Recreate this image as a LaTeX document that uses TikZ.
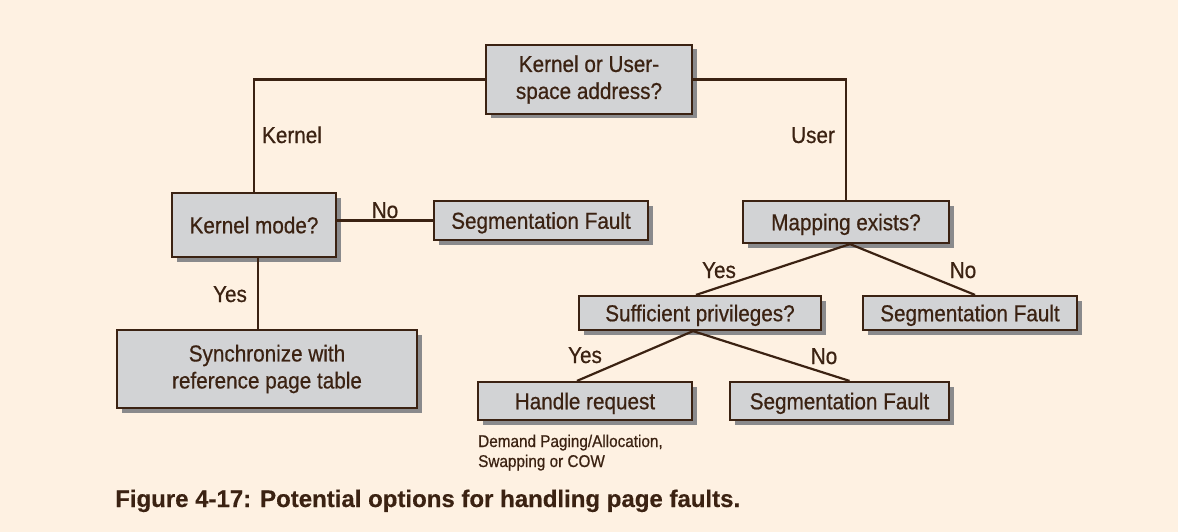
\documentclass[tikz,border=0pt]{standalone}
\usepackage{fontspec}
\setmainfont[FakeStretch=0.9,FakeBold=0.6]{Liberation Sans}
\newfontfamily\capfont[FakeBold=0.4]{Liberation Sans}
\usetikzlibrary{shadows,calc}
\definecolor{bgc}{HTML}{FEF1E2}
\definecolor{ink}{HTML}{3B2212}
\definecolor{boxfill}{HTML}{D2D3D5}
\definecolor{shadowc}{HTML}{8A8A8C}
\begin{document}
\begin{tikzpicture}[x=1pt,y=-1pt,
  boxbase/.style={draw=ink, line width=2.2pt, fill=boxfill, text=ink, align=center,
    inner sep=0pt, font=\fontsize{23}{27}\selectfont,
    general shadow={shadow xshift=4.5pt, shadow yshift=-4.5pt, fill=shadowc}},
  box/.style={boxbase, text height=16.5pt, text depth=0pt},
  mbox/.style={boxbase},
  lbl/.style={text=ink, anchor=base, inner sep=0pt, font=\fontsize{23}{27}\selectfont},
  conn/.style={draw=ink, line width=2.2pt}]
\fill[bgc] (0,0) rectangle (1178,532);
\useasboundingbox (0,0) rectangle (1178,532);

\node[mbox, minimum width=206pt, minimum height=69pt] (top) at (589,79.5) {Kernel or User-\\space address?};
\node[box, minimum width=164pt, minimum height=64pt] (km) at (254,225) {Kernel mode?};
\node[box, minimum width=214pt, minimum height=39pt] (sf1) at (541,220.5) {Segmentation Fault};
\node[mbox, minimum width=300pt, minimum height=78pt] (sync) at (267,369) {Synchronize with\\reference page table};
\node[box, minimum width=206pt, minimum height=42pt] (map) at (846,222) {Mapping exists?};
\node[box, minimum width=242pt, minimum height=34pt] (suff) at (700,313) {Sufficient privileges?};
\node[box, minimum width=214pt, minimum height=34pt] (sf2) at (970,313) {Segmentation Fault};
\node[box, minimum width=214pt, minimum height=38pt] (hr) at (585,401) {Handle request};
\node[box, minimum width=219pt, minimum height=38pt] (sf3) at (839.5,401) {Segmentation Fault};

% connectors
\draw[conn] (top.west) -| (km.north);
\draw[conn] (top.east) -| (map.north);
\draw[conn] (sf1.west -| km.east) -- (sf1.west);
\draw[conn] ([xshift=4pt]km.south) -- ([xshift=4pt]km.south |- sync.north);
\coordinate (mapb) at ([xshift=4pt]map.south);
\draw[conn] (mapb) -- ([xshift=-4pt]suff.north);
\draw[conn] (mapb) -- ([xshift=5pt]sf2.north);
\coordinate (suffb) at ([xshift=-7pt]suff.south);
\draw[conn] (suffb) -- ([xshift=-8pt]hr.north);
\draw[conn] (suffb) -- ([xshift=10pt]sf3.north);

% labels
\node[lbl] (lk) at (292,143) {Kernel};
\node[lbl] (lu) at (813,143) {User};
\node[lbl] (ln1) at (385,218) {No};
\node[lbl] (ly1) at (230,302) {Yes};
\node[lbl] (ly2) at (719,278) {Yes};
\node[lbl] (ln2) at (963,278) {No};
\node[lbl] (ly3) at (585,363) {Yes};
\node[lbl] (ln3) at (824,364) {No};

% annotation
\node[text=ink, anchor=base west, inner sep=0pt, align=left, font=\fontsize{17}{20}\selectfont] (note) at (478,467) {Demand Paging/Allocation,\\Swapping or COW};

% caption
\node[text=ink, anchor=base west, inner sep=0pt, font=\capfont\bfseries\fontsize{24}{28}\selectfont] (cap) at (115,507) {Figure 4-17: Potential options for handling page faults.};
\end{tikzpicture}
\end{document}
